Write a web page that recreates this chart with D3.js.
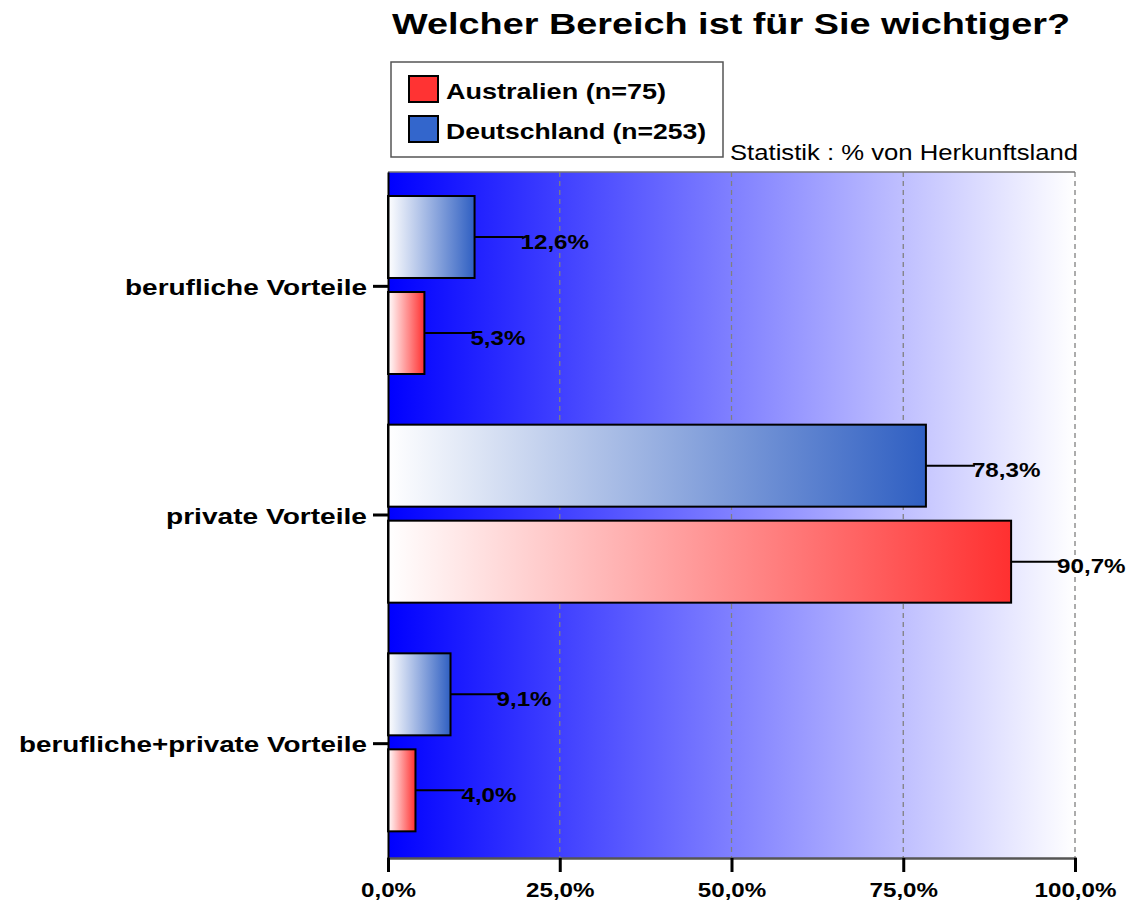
<!DOCTYPE html>
<html>
<head>
<meta charset="utf-8">
<script src="https://cdn.jsdelivr.net/npm/d3@7"></script>
<style>
  body { margin: 0; background: #fff; }
  svg { display: block; font-family: "Liberation Sans", Arial, sans-serif; }
</style>
</head>
<body>
<div id="chart"></div>
<script>
"use strict";

var categories = ["berufliche Vorteile", "private Vorteile", "berufliche+private Vorteile"];
var series = ["Deutschland", "Australien"];
var legendLabels = ["Australien (n=75)", "Deutschland (n=253)"];
var deutschland = [12.6, 78.3, 9.1];
var australien = [5.3, 90.7, 4.0];
var ticks = [0, 25, 50, 75, 100];

var width = 1142, height = 907;
var margin = { top: 172, right: 67, bottom: 49, left: 388 };
var innerW = width - margin.left - margin.right,
    innerH = height - margin.top - margin.bottom;

var fmt = function (v) { return d3.format(".1f")(v).replace(".", ",") + "%"; };

// the original uses a wide bitmap font, so stretch text to its measured width
function fitText(sel, px) {
  sel.each(function (d, i) {
    var w = this.getComputedTextLength();
    var target = px(w, i);
    if (target) d3.select(this).attr("textLength", target).attr("lengthAdjust", "spacingAndGlyphs");
  });
}

var svg = d3.select("#chart").append("svg")
    .attr("width", width).attr("height", height);

var defs = svg.append("defs");

function grad(id, from, to) {
  var g = defs.append("linearGradient").attr("id", id)
      .attr("x1", "0%").attr("x2", "100%").attr("y1", "0%").attr("y2", "0%");
  g.append("stop").attr("offset", "0%").attr("stop-color", from);
  g.append("stop").attr("offset", "100%").attr("stop-color", to);
}
grad("bg", "#0000ff", "#ffffff");
grad("gBlue", "#ffffff", "#2f5fc2");
grad("gRed", "#ffffff", "#ff3030");

var x = d3.scaleLinear().domain([0, 100]).range([0, innerW]);
var y = d3.scaleBand().domain(categories).range([0, innerH]);
var y1 = d3.scaleBand().domain(series).range([24, 202]).paddingInner(0.146);

var g = svg.append("g").attr("transform", "translate(" + margin.left + "," + margin.top + ")");

// background
g.append("rect").attr("width", innerW).attr("height", innerH).attr("fill", "url(#bg)");

// grid
g.selectAll(".grid").data(ticks.slice(1)).join("line")
    .attr("x1", d => x(d)).attr("x2", d => x(d))
    .attr("y1", 0).attr("y2", innerH)
    .attr("stroke", "#808080").attr("stroke-width", 1.3)
    .attr("stroke-dasharray", "5,4");

// top frame
g.append("line").attr("x1", 0).attr("x2", innerW).attr("y1", 0).attr("y2", 0)
    .attr("stroke", "#777").attr("stroke-width", 1.5);

// bars
var rows = categories.map(function (c, i) {
  return [
    { cat: c, s: "Deutschland", v: deutschland[i], fill: "url(#gBlue)" },
    { cat: c, s: "Australien", v: australien[i], fill: "url(#gRed)" }
  ];
}).flat();

var bar = g.selectAll(".bar").data(rows).join("g")
    .attr("transform", d => "translate(0," + (y(d.cat) + y1(d.s)) + ")");

bar.append("rect")
    .attr("x", 0).attr("y", 0)
    .attr("width", d => x(d.v)).attr("height", y1.bandwidth())
    .attr("fill", d => d.fill)
    .attr("stroke", "#000").attr("stroke-width", 2);

bar.append("line")
    .attr("x1", d => x(d.v)).attr("x2", d => x(d.v) + 49)
    .attr("y1", y1.bandwidth() / 2).attr("y2", y1.bandwidth() / 2)
    .attr("stroke", "#000").attr("stroke-width", 2);

bar.append("text")
    .attr("x", d => x(d.v) + 46).attr("y", y1.bandwidth() / 2)
    .attr("dy", "0.55em")
    .attr("font-weight", "bold").attr("font-size", 21)
    .attr("fill", "#000")
    .text(d => fmt(d.v))
    .call(fitText, w => w * 1.15);

// x axis
var xAxis = g.append("g").attr("transform", "translate(0," + innerH + ")")
    .call(d3.axisBottom(x).tickValues(ticks).tickSize(14).tickPadding(10).tickFormat(fmt));
xAxis.select(".domain").attr("stroke", "#555").attr("stroke-width", 2.5);
xAxis.selectAll(".tick line").attr("stroke", "#000").attr("stroke-width", 3);
xAxis.selectAll(".tick text").attr("font-size", 21).attr("font-weight", "bold")
    .attr("fill", "#000")
    .call(fitText, w => w * 1.15);

// y axis
var catWidths = [242, 201, 348];
var yAxis = g.append("g")
    .call(d3.axisLeft(y).tickSize(15).tickSizeOuter(0).tickPadding(6));
yAxis.select(".domain").attr("stroke", "#000").attr("stroke-width", 2);
yAxis.selectAll(".tick line").attr("stroke", "#000").attr("stroke-width", 3);
yAxis.selectAll(".tick text").attr("font-size", 22).attr("font-weight", "bold")
    .attr("fill", "#000").attr("dy", "0.4em")
    .call(fitText, (w, i) => catWidths[i]);

// title
svg.append("text")
    .attr("x", 392).attr("y", 34)
    .attr("font-size", 29).attr("font-weight", "bold")
    .text("Welcher Bereich ist für Sie wichtiger?")
    .call(fitText, () => 678);

// legend
var leg = svg.append("g").attr("transform", "translate(391,62)");
leg.append("rect").attr("width", 332).attr("height", 95)
    .attr("fill", "#fff").attr("stroke", "#555").attr("stroke-width", 1.5);
var legColors = ["#ff3333", "#3366cc"];
var legWidths = [220, 260];
legendLabels.forEach(function (t, i) {
  var row = leg.append("g").attr("transform", "translate(18," + (14 + i * 40) + ")");
  row.append("rect").attr("width", 29).attr("height", 26)
      .attr("fill", legColors[i]).attr("stroke", "#000").attr("stroke-width", 2);
  row.append("text").attr("x", 37).attr("y", 23)
      .attr("font-size", 22).attr("font-weight", "bold").text(t)
      .call(fitText, () => legWidths[i]);
});

svg.append("text")
    .attr("x", 730).attr("y", 160)
    .attr("font-size", 22)
    .text("Statistik : % von Herkunftsland")
    .call(fitText, () => 348);
</script>
</body>
</html>
